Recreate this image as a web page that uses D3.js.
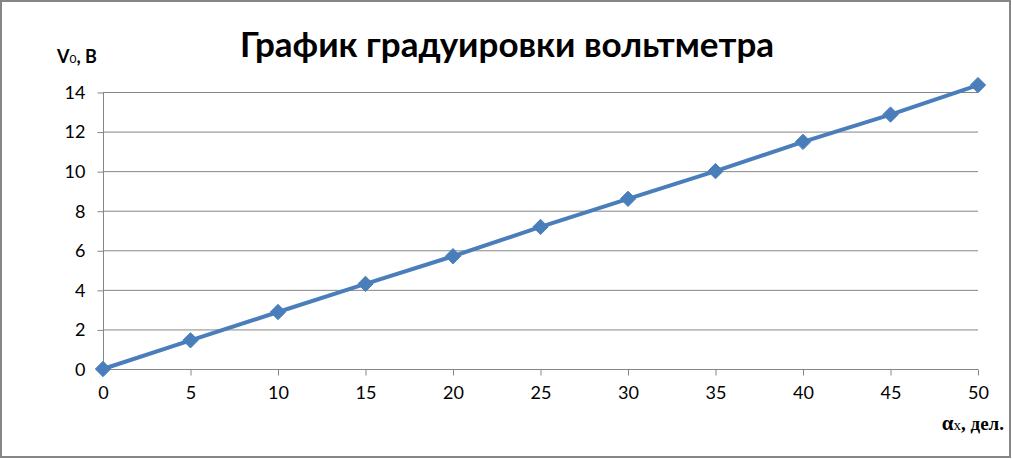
<!DOCTYPE html>
<html><head><meta charset="utf-8">
<script src="https://cdn.jsdelivr.net/npm/d3@7"></script>
<style>body{margin:0;background:#fff}svg{display:block}</style>
</head><body>
<svg id="c" width="1012" height="459"></svg>
<script>
const titleText = "График градуировки вольтметра";
const xValues = [0, 5, 10, 15, 20, 25, 30, 35, 40, 45, 50];
const yValues = [0, 1.45, 2.88, 4.3, 5.7, 7.18, 8.6, 10.0, 11.48, 12.86, 14.35];
const xTicks = [0, 5, 10, 15, 20, 25, 30, 35, 40, 45, 50];
const yTicks = [0, 2, 4, 6, 8, 10, 12, 14];

const svg = d3.select("#c");
const W = 1012, H = 459;
const grid = "#868686";
svg.append("rect").attr("x",1).attr("y",1).attr("width",W-3).attr("height",H-3)
  .attr("fill","#fff").attr("stroke",grid).attr("stroke-width",2);

const x = d3.scaleLinear().domain([0,50]).range([103,978]);
const y = d3.scaleLinear().domain([0,14]).range([369,92]);

// gridlines
svg.append("g").selectAll("line").data(yTicks.filter(d=>d>0)).join("line")
  .attr("x1",x(0)).attr("x2",x(50)).attr("y1",d=>y(d)+0.5).attr("y2",d=>y(d)+0.5)
  .attr("stroke",grid).attr("stroke-width",1);

// y axis
const ya = svg.append("g").attr("transform",`translate(${x(0)+0.5},0)`)
  .call(d3.axisLeft(y).tickValues(yTicks).tickSize(6).tickPadding(12).tickFormat(d3.format("d")));
ya.select(".domain").attr("stroke",grid).attr("d",`M0,${y(14)}V${y(0)}`);
ya.selectAll(".tick line").attr("stroke",grid).attr("transform","translate(0,0.5)");
ya.selectAll("text").attr("font-family","Lato, 'Open Sans', sans-serif").attr("font-size",18).attr("fill","#000").attr("dy","0.35em");

// x axis
const xa = svg.append("g").attr("transform",`translate(0,${y(0)+0.5})`)
  .call(d3.axisBottom(x).tickValues(xTicks).tickSize(6).tickPadding(11).tickFormat(d3.format("d")));
xa.select(".domain").attr("stroke",grid).attr("d",`M${x(0)},0H${x(50)}`);
xa.selectAll(".tick line").attr("stroke",grid);
xa.selectAll("text").attr("font-family","Lato, 'Open Sans', sans-serif").attr("font-size",18).attr("fill","#000");

// line
const pts = xValues.map((v,i)=>[v,yValues[i]]);
svg.append("path").datum(pts)
  .attr("d",d3.line().x(d=>x(d[0])).y(d=>y(d[1])))
  .attr("fill","none").attr("stroke","#4a7ebb").attr("stroke-width",4).attr("stroke-linejoin","round");

svg.append("g").selectAll("path").data(pts).join("path")
  .attr("d",d3.symbol().type(d3.symbolDiamond2).size(150))
  .attr("transform",d=>`translate(${x(d[0])},${y(d[1])})`)
  .attr("fill","#4a7ebb").attr("stroke","#4a7ebb").attr("stroke-width",1);

// title
svg.append("text").attr("x",507).attr("y",57).attr("text-anchor","middle")
  .attr("font-family","Lato, 'Open Sans', sans-serif").attr("font-weight","bold")
  .attr("font-size",35).attr("fill","#000").text(titleText);

// y label
const yl = svg.append("text").attr("x",57).attr("y",63)
  .attr("font-family","Lato, 'Open Sans', sans-serif").attr("font-weight","bold")
  .attr("font-size",18).attr("fill","#000");
yl.append("tspan").text("V");
yl.append("tspan").attr("font-size",12).attr("font-weight","normal").text("0");
yl.append("tspan").text(", В");

// x label
const xl = svg.append("text").attr("x",1004).attr("y",430).attr("text-anchor","end")
  .attr("font-family","'Liberation Serif', serif").attr("font-weight","bold")
  .attr("font-size",19).attr("fill","#000");
xl.append("tspan").attr("font-size",21).text("α");
xl.append("tspan").attr("font-size",15).attr("font-weight","normal").text("x");
xl.append("tspan").text(", дел.");
</script>
</body></html>
